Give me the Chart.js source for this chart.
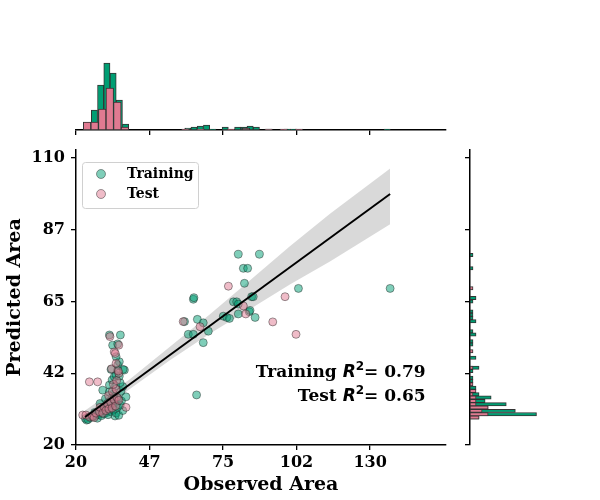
<!DOCTYPE html>
<html>
<head>
<meta charset="utf-8">
<title>Observed vs Predicted Area</title>
<script src="https://cdn.jsdelivr.net/npm/chart.js@4.4.0/dist/chart.umd.min.js"></script>
<style>
  html, body { margin: 0; padding: 0; background: #fff; }
  #wrap { position: relative; width: 600px; height: 500px; }
  #wrap canvas { position: absolute; }
  #mainChart { left: 0; top: 0; }
  #topHist { left: 0; top: 0; }
  #rightHist { left: 440px; top: 0; }
</style>
</head>
<body>
<div id="wrap">
  <canvas id="mainChart" width="600" height="500"></canvas>
  <canvas id="topHist" width="600" height="140"></canvas>
  <canvas id="rightHist" width="160" height="500"></canvas>
</div>
<script>
// scatter points
const trainX = [23.5, 24.0, 24.5, 25.5, 26.5, 27.5, 28.0, 28.5, 29.5, 30.5, 31.5, 32.0, 33.0, 34.0, 34.6, 35.0, 36.0, 37.5,
  29.0, 27.0, 30.0, 31.0, 32.5, 33.5, 34.5, 35.5, 36.5, 37.0, 35.8, 34.2, 33.0, 32.0, 29.0, 31.0, 34.0, 36.8, 38.7, 37.5,
  30.0, 32.5, 32.5, 33.5, 34.3, 34.8, 36.5, 35.0, 36.2, 33.1, 35.6, 38.1, 37.6, 35.6, 36.2, 35.0, 33.7, 35.6, 32.5, 36.6,
  60.6, 62.0, 63.9, 63.9, 64.1, 65.1, 65.4, 67.6, 67.6, 69.5, 75.1, 76.4, 77.4, 78.9, 80.1, 80.7, 80.7, 80.7, 82.6, 83.0,
  84.2, 84.8, 85.1, 85.7, 86.3, 87.0, 88.6, 103.2, 137.5];
const trainY = [28.3, 27.8, 28.0, 28.6, 28.9, 29.3, 28.4, 29.6, 29.2, 29.8, 30.2, 29.5, 30.5, 31.0, 29.1, 30.0, 29.3, 30.8,
  30.6, 30.2, 31.0, 31.5, 32.0, 32.8, 33.2, 31.8, 32.5, 33.8, 34.5, 35.0, 34.0, 33.2, 33.0, 34.5, 36.0, 36.8, 35.1, 38.3,
  37.2, 36.7, 38.8, 40.4, 41.4, 38.5, 39.5, 41.9, 41.6, 43.7, 43.5, 43.5, 43.7, 45.1, 46.1, 47.7, 51.3, 51.7, 54.5, 54.5,
  58.7, 54.7, 54.7, 65.7, 66.2, 35.7, 59.4, 58.3, 52.1, 55.7, 60.4, 60.0, 59.7, 64.9, 64.9, 64.2, 61.1, 79.8, 75.4, 70.7,
  75.4, 61.8, 62.2, 66.5, 66.5, 60.0, 79.8, 69.1, 69.1];
const testX = [22.5, 23.7, 25.0, 26.2, 26.8, 27.5, 28.8, 29.0, 30.0, 30.5, 31.2, 31.8, 32.3, 32.2, 33.0, 33.5, 33.6, 34.2,
  34.8, 35.3, 35.0, 36.0, 38.7, 25.0, 28.1, 34.0, 35.2, 36.0, 33.3, 35.8, 35.0, 34.3, 34.7, 36.0, 32.7,
  60.1, 66.4, 77.0, 82.6, 83.5, 93.6, 98.2, 102.3];
const testY = [29.4, 29.4, 28.8, 29.0, 28.6, 30.0, 30.4, 31.8, 30.0, 32.0, 30.8, 33.0, 31.3, 35.5, 33.5, 31.6, 36.8, 34.3,
  32.2, 35.0, 37.5, 34.0, 31.8, 39.8, 39.8, 39.0, 40.2, 42.5, 43.9, 43.2, 45.6, 49.2, 48.7, 51.3, 54.0,
  58.7, 57.1, 69.8, 63.6, 61.1, 58.6, 66.5, 54.7];

// regression line and its confidence band
const fitX = [23.4, 137.5];
const fitY = [28.8, 98.7];
const bandX = [23.4, 40, 55, 70, 85, 100, 115, 137.5];
const bandUpper = [30.8, 40.5, 50.7, 60.9, 71.6, 82.3, 92.5, 106.7];
const bandLower = [26.8, 37.5, 46.5, 54.9, 62.6, 70.3, 77.5, 89.2];

// axis ticks
const xTicks = [20, 47.5, 75, 102.5, 130];
const xTickLabels = ['20', '47', '75', '102', '130'];
const yTicks = [20, 42.5, 65, 87.5, 110];
const yTickLabels = ['20', '42', '65', '87', '110'];

// R² annotation
const r2Names = ['Training', 'Test'];
const r2Values = ['0.79', '0.65'];

// top marginal histogram (observed area)
const topTrainBins = [24.56, 26.89, 29.22, 31.55, 33.88, 36.21, 38.54, 61.84, 64.17, 66.50, 68.83, 71.16,
  75.82, 80.48, 82.81, 85.14, 87.47, 92.13, 99.12, 101.45, 136.40];
const topTrainCounts = [6, 20, 45, 67, 57, 30, 6, 2, 3, 4, 5, 1, 3, 3, 3, 4, 3, 1, 1, 1, 1];
const topTestBins = [24.15, 26.98, 29.81, 32.64, 35.47, 38.30, 60.94, 66.60, 77.92, 83.58, 92.06, 97.72, 103.39];
const topTestCounts = [8, 8, 21, 42, 28, 3, 1, 1, 1, 2, 1, 1, 1];

// right marginal histogram (predicted area)
const rightTrainBins = [28.62, 29.66, 30.70, 31.74, 32.78, 33.82, 34.86, 35.90, 37.98, 40.06, 41.10, 43.18, 44.22,
  47.34, 51.50, 52.54, 54.62, 55.66, 58.78, 59.82, 60.86, 61.90, 65.02, 66.06, 75.42, 79.58];
const rightTrainCounts = [3, 22, 15, 6, 12, 5, 7, 3, 2, 1, 1, 1, 3, 2, 1, 1, 2, 1, 2, 1, 1, 1, 1, 2, 1, 1];
const rightTestBins = [28.62, 29.66, 30.70, 31.74, 32.78, 33.82, 34.86, 35.90, 36.94, 39.02, 44.22, 49.42, 69.18];
const rightTestCounts = [3, 6, 4, 6, 2, 2, 2, 1, 2, 1, 1, 1, 1];

const GREEN = '#009e73';
const PINK = '#e07a91';
const EDGE = '#333333';
const SERIF = '"DejaVu Serif", "Liberation Serif", serif';

Chart.defaults.font.family = SERIF;
Chart.defaults.font.size = 16;
Chart.defaults.font.weight = 'bold';
Chart.defaults.color = '#000';

const zip = (xs, ys) => xs.map((x, i) => ({ x, y: ys[i] }));

const setTicks = vals => scale => { scale.ticks = vals.map(v => ({ value: v })); };

// legend drawn inside the plot, upper left
const legendBox = {
  id: 'legendBox',
  afterDraw(chart) {
    const { ctx, chartArea } = chart;
    const items = chart.data.datasets.filter(d => d.inLegend);
    const x0 = chartArea.left + 6, y0 = chartArea.top + 12;
    const w = 116, h = 46;
    ctx.save();
    ctx.beginPath();
    if (ctx.roundRect) ctx.roundRect(x0 + 0.5, y0 + 0.5, w, h, 3);
    else ctx.rect(x0 + 0.5, y0 + 0.5, w, h);
    ctx.strokeStyle = '#d0d0d0';
    ctx.lineWidth = 1;
    ctx.stroke();
    items.forEach((d, i) => {
      const cy = y0 + 12 + i * 20;
      ctx.beginPath();
      ctx.arc(x0 + 19, cy, 4.5, 0, Math.PI * 2);
      ctx.fillStyle = d.backgroundColor;
      ctx.fill();
      ctx.strokeStyle = d.borderColor;
      ctx.lineWidth = 0.8;
      ctx.stroke();
      ctx.fillStyle = '#000';
      ctx.font = 'bold 14px ' + SERIF;
      ctx.textBaseline = 'middle';
      ctx.fillText(d.label, x0 + 45, cy);
    });
    ctx.restore();
  }
};

// "Training R² = 0.79" style annotation, right aligned
const r2Text = {
  id: 'r2Text',
  afterDraw(chart) {
    const { ctx, chartArea: a } = chart;
    const right = a.left + 0.945 * (a.right - a.left);
    const baselines = [a.top + 0.77 * (a.bottom - a.top), a.top + 0.852 * (a.bottom - a.top)];
    const fMain = 'bold 17px ' + SERIF;
    const fR = 'italic bold 17px "DejaVu Sans"';
    const fSup = 'bold 12px "DejaVu Sans"';
    ctx.save();
    ctx.fillStyle = '#000';
    ctx.textBaseline = 'alphabetic';
    r2Names.forEach((name, i) => {
      const parts = [
        [name + ' ', fMain, 0],
        ['R', fR, 0],
        ['2', fSup, -7],
        ['= ' + r2Values[i], fMain, 0]
      ];
      const widths = parts.map(p => { ctx.font = p[1]; return ctx.measureText(p[0]).width; });
      let x = right - widths.reduce((s, v) => s + v, 0);
      parts.forEach((p, j) => {
        ctx.font = p[1];
        ctx.fillText(p[0], x, baselines[i] + p[2]);
        x += widths[j];
      });
    });
    ctx.restore();
  }
};

const axisLine = { color: '#000', width: 1.5 };
const tickMarks = { drawOnChartArea: false, color: '#000', lineWidth: 1.3, tickLength: 5, offset: false };

new Chart(document.getElementById('mainChart'), {
  type: 'scatter',
  data: {
    datasets: [
      {
        type: 'line', label: 'band upper', data: zip(bandX, bandUpper),
        borderWidth: 0, borderColor: 'rgba(0,0,0,0)', pointRadius: 0,
        fill: '+1', backgroundColor: 'rgba(0,0,0,0.15)', order: 5
      },
      {
        type: 'line', label: 'band lower', data: zip(bandX, bandLower),
        borderWidth: 0, borderColor: 'rgba(0,0,0,0)', pointRadius: 0, fill: false, order: 5
      },
      {
        label: 'Training', inLegend: true, data: zip(trainX, trainY),
        backgroundColor: 'rgba(0,158,115,0.5)', borderColor: 'rgba(30,30,30,0.55)',
        pointRadius: 4, borderWidth: 0.8, order: 3
      },
      {
        label: 'Test', inLegend: true, data: zip(testX, testY),
        backgroundColor: 'rgba(224,122,145,0.5)', borderColor: 'rgba(30,30,30,0.55)',
        pointRadius: 4, borderWidth: 0.8, order: 2
      },
      {
        type: 'line', label: 'fit', data: zip(fitX, fitY),
        borderColor: '#000', borderWidth: 2, pointRadius: 0, fill: false, order: 1
      }
    ]
  },
  options: {
    responsive: false,
    animation: false,
    layout: { padding: { left: 0, top: 150, right: 154, bottom: 0 } },
    plugins: { legend: { display: false }, tooltip: { enabled: false } },
    scales: {
      x: {
        type: 'linear', min: 20, max: 158.4,
        afterBuildTicks: setTicks(xTicks),
        afterFit: s => { s.height = 55; },
        ticks: { callback: (v, i) => xTickLabels[i], padding: 3, maxRotation: 0, autoSkip: false },
        grid: tickMarks,
        border: axisLine,
        title: { display: true, text: 'Observed Area', font: { size: 19, weight: 'bold' }, padding: { top: 0, bottom: 4 } }
      },
      y: {
        type: 'linear', min: 20, max: 112.5,
        afterBuildTicks: setTicks(yTicks),
        afterFit: s => { s.width = 76; },
        ticks: { callback: (v, i) => yTickLabels[i], padding: 6, autoSkip: false },
        grid: tickMarks,
        border: axisLine,
        title: { display: true, text: 'Predicted Area', font: { size: 19, weight: 'bold' }, padding: { top: 4, bottom: 0 } }
      }
    }
  },
  plugins: [legendBox, r2Text]
});

const histStyle = {
  borderColor: EDGE, borderWidth: 1, borderSkipped: false,
  barPercentage: 1, categoryPercentage: 1, grouped: false
};

new Chart(document.getElementById('topHist'), {
  type: 'bar',
  data: {
    datasets: [
      Object.assign({ label: 'Training', data: zip(topTrainBins, topTrainCounts), xAxisID: 'x', backgroundColor: GREEN, order: 2 }, histStyle),
      Object.assign({ label: 'Test', data: zip(topTestBins, topTestCounts), xAxisID: 'x2', backgroundColor: PINK, order: 1 }, histStyle)
    ]
  },
  options: {
    responsive: false,
    animation: false,
    layout: { padding: { left: 76, top: 60, right: 154, bottom: 0 } },
    plugins: { legend: { display: false }, tooltip: { enabled: false } },
    scales: {
      x: {
        type: 'linear', min: 20, max: 158.4, offset: false,
        afterBuildTicks: setTicks(xTicks),
        afterFit: s => { s.height = 10; },
        ticks: { display: false },
        grid: tickMarks,
        border: axisLine
      },
      x2: { type: 'linear', min: 20, max: 158.4, offset: false, display: false },
      y: { min: 0, max: 70, display: false }
    }
  }
});

new Chart(document.getElementById('rightHist'), {
  type: 'bar',
  data: {
    datasets: [
      Object.assign({ label: 'Training', data: zip(rightTrainCounts, rightTrainBins), yAxisID: 'y', backgroundColor: GREEN, order: 2 }, histStyle),
      Object.assign({ label: 'Test', data: zip(rightTestCounts, rightTestBins), yAxisID: 'y2', backgroundColor: PINK, order: 1 }, histStyle)
    ]
  },
  options: {
    indexAxis: 'y',
    responsive: false,
    animation: false,
    layout: { padding: { left: 0, top: 150, right: 0, bottom: 55 } },
    plugins: { legend: { display: false }, tooltip: { enabled: false } },
    scales: {
      y: {
        type: 'linear', min: 20, max: 112.5, offset: false,
        afterBuildTicks: setTicks(yTicks),
        afterFit: s => { s.width = 30; },
        ticks: { display: false },
        grid: tickMarks,
        border: axisLine
      },
      y2: { type: 'linear', min: 20, max: 112.5, offset: false, display: false },
      x: { min: 0, max: 43, display: false }
    }
  }
});
</script>
</body>
</html>
